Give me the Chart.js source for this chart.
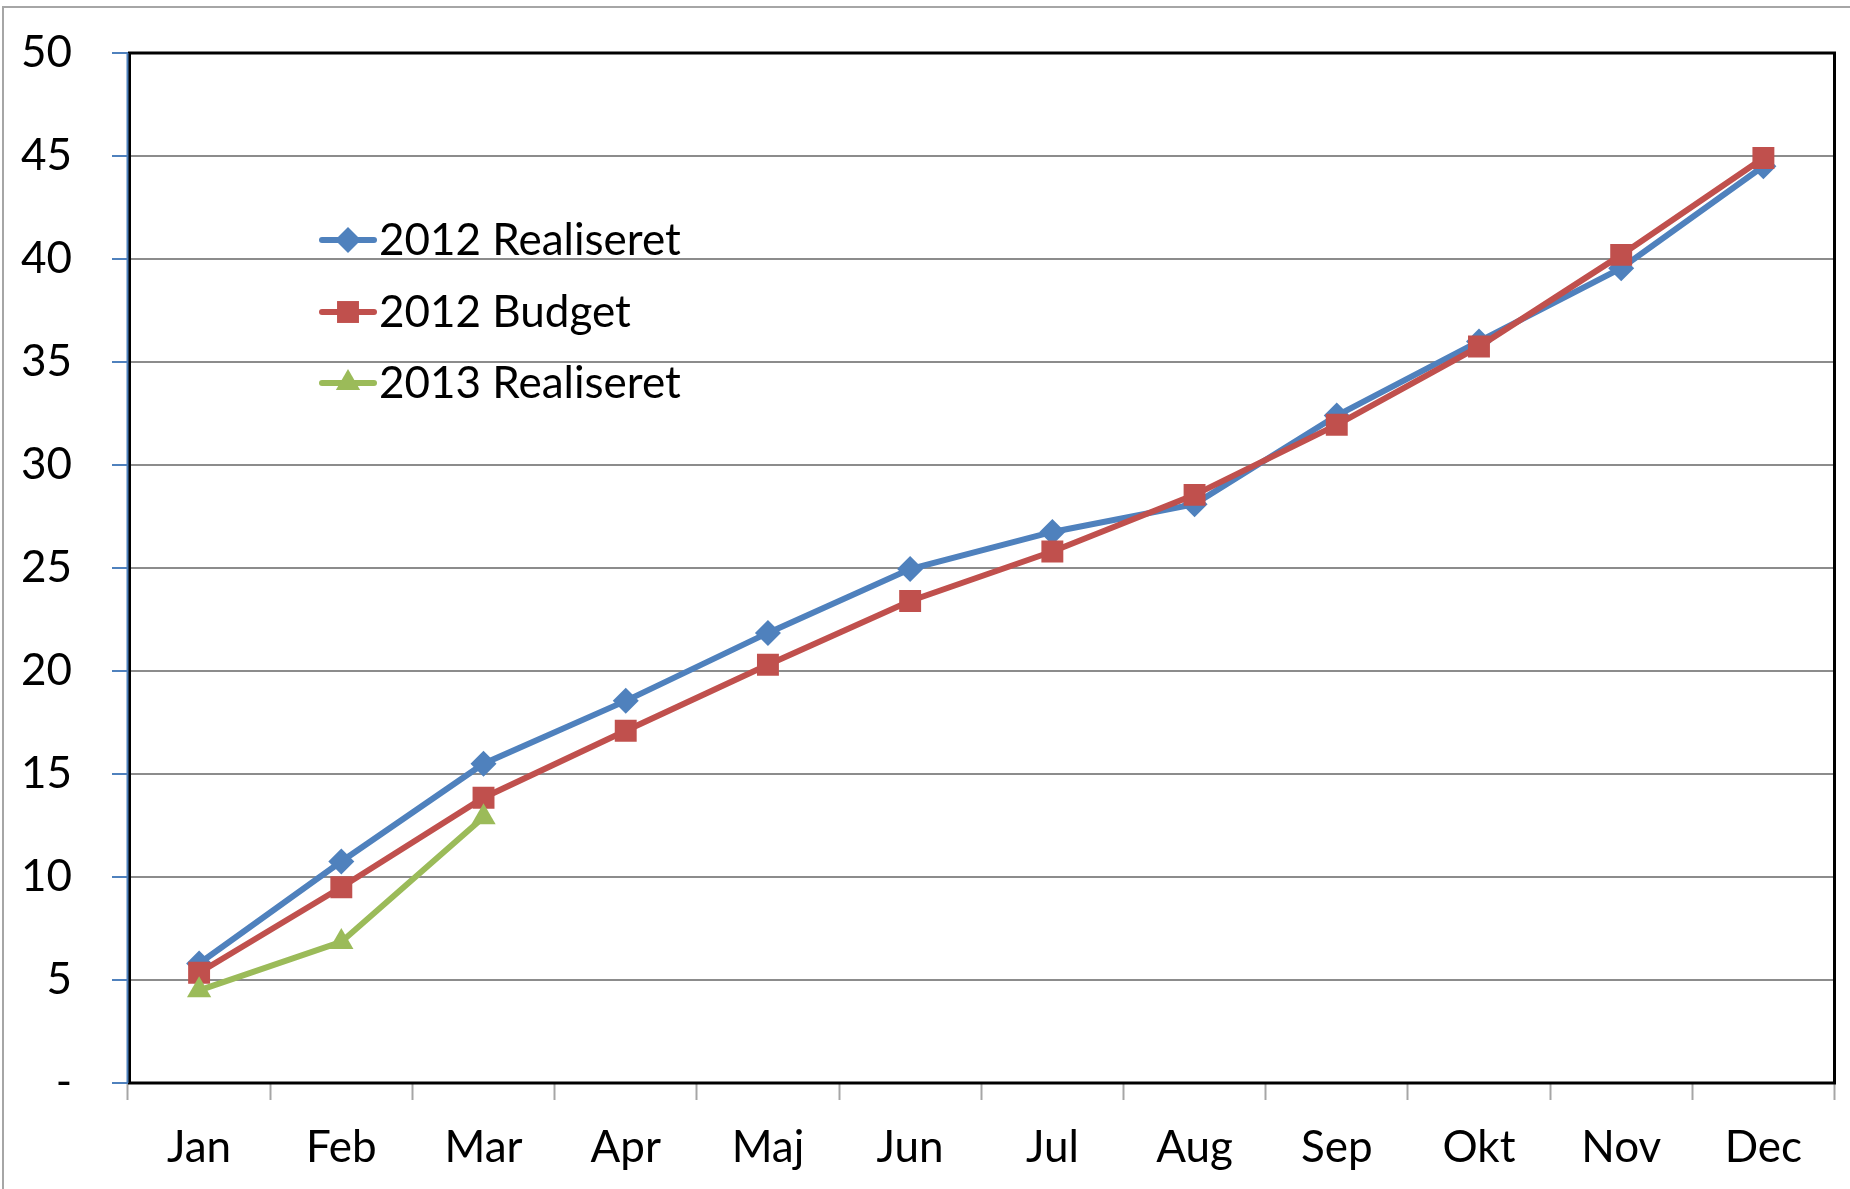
<!DOCTYPE html>
<html>
<head>
<meta charset="utf-8">
<script src="https://cdn.jsdelivr.net/npm/chart.js@4.4.1/dist/chart.umd.min.js"></script>
<style>
  html, body { margin: 0; padding: 0; background: #fff; overflow: hidden; }
  #wrap { position: relative; width: 1850px; height: 1189px; }
</style>
</head>
<body>
<div id="wrap"><canvas id="myChart" width="1850" height="1189"></canvas></div>
<script>
const months = ['Jan', 'Feb', 'Mar', 'Apr', 'Maj', 'Jun', 'Jul', 'Aug', 'Sep', 'Okt', 'Nov', 'Dec'];
const realiseret2012 = [5.8, 10.75, 15.5, 18.55, 21.85, 24.95, 26.75, 28.1, 32.4, 36.0, 39.55, 44.5];
const budget2012 = [5.35, 9.5, 13.85, 17.1, 20.3, 23.4, 25.8, 28.55, 31.95, 35.75, 40.2, 44.9];
const realiseret2013 = [4.5, 6.85, 12.9];
const yTicks = [0, 5, 10, 15, 20, 25, 30, 35, 40, 45, 50];

const FONT = 'Lato, "Open Sans", sans-serif';
const LINE_W = 6;

// plot frame + outer border + legend, drawn by hand like the Excel original
const framePlugin = {
  id: 'frame',
  beforeDraw(chart) {
    const { ctx } = chart;
    ctx.save();
    ctx.fillStyle = '#fff';
    ctx.fillRect(0, 0, chart.width, chart.height);
    ctx.strokeStyle = '#a6a6a6';
    ctx.lineWidth = 2;
    ctx.strokeRect(3, 7, chart.width + 20, chart.height + 20);
    ctx.restore();
  },
  afterDatasetsDraw(chart) {
    const { ctx, chartArea: a } = chart;
    ctx.save();
    ctx.strokeStyle = '#000';
    ctx.lineWidth = 3;
    ctx.strokeRect(a.left + 1.5, a.top, a.right - a.left - 1.5, a.bottom - a.top);
    ctx.strokeStyle = '#4f81bd';
    ctx.lineWidth = 2;
    ctx.beginPath();
    ctx.moveTo(a.left - 0.5, a.top);
    ctx.lineTo(a.left - 0.5, a.bottom);
    ctx.stroke();

    // legend
    const rows = [240, 312, 383];
    chart.data.datasets.forEach((ds, i) => {
      const y = rows[i];
      ctx.strokeStyle = ds.borderColor;
      ctx.lineWidth = LINE_W;
      ctx.lineCap = 'round';
      ctx.beginPath();
      ctx.moveTo(322, y);
      ctx.lineTo(374, y);
      ctx.stroke();
      ctx.fillStyle = ds.backgroundColor;
      Chart.helpers.drawPoint(ctx, { pointStyle: ds.pointStyle, radius: ds.pointRadius, borderWidth: 0 }, 348, y);
      ctx.fillStyle = '#000';
      ctx.font = `44px ${FONT}`;
      ctx.textBaseline = 'middle';
      ctx.textAlign = 'left';
      ctx.fillText(ds.label, 379, y + 1);
    });
    ctx.restore();
  },
};

const data = {
  labels: months,
  datasets: [
    {
      label: '2012 Realiseret',
      data: realiseret2012,
      borderColor: '#4f81bd',
      backgroundColor: '#4f81bd',
      borderWidth: LINE_W,
      pointStyle: 'rectRot',
      pointRadius: 13,
      pointBorderWidth: 0,
      order: 2,
    },
    {
      label: '2012 Budget',
      data: budget2012,
      borderColor: '#c0504d',
      backgroundColor: '#c0504d',
      borderWidth: LINE_W,
      pointStyle: 'rect',
      pointRadius: 15.5,
      pointBorderWidth: 0,
      order: 1,
    },
    {
      label: '2013 Realiseret',
      data: realiseret2013,
      borderColor: '#9bbb59',
      backgroundColor: '#9bbb59',
      borderWidth: LINE_W,
      pointStyle: 'triangle',
      pointRadius: 14,
      pointBorderWidth: 0,
      order: 0,
    },
  ],
};

const config = {
  type: 'line',
  data,
  options: {
    responsive: false,
    animation: false,
    layout: { padding: { top: 53, right: 8, left: 0, bottom: 0 } },
    elements: {
      line: { tension: 0 },
    },
    plugins: {
      legend: { display: false },
      tooltip: { enabled: false },
    },
    scales: {
      x: {
        offset: true,
        grid: {
          offset: true,
          drawOnChartArea: false,
          drawTicks: true,
          tickLength: 17,
          tickColor: '#a6a6a6',
          tickWidth: 2,
        },
        border: { display: false },
        ticks: {
          color: '#000',
          font: { family: FONT, size: 44 },
          padding: 21,
          maxRotation: 0,
        },
        afterFit(scale) { scale.height = 106; },
      },
      y: {
        min: 0,
        max: 50,
        afterBuildTicks(scale) { scale.ticks = yTicks.map((v) => ({ value: v })); },
        grid: {
          color: '#8c8c8c',
          lineWidth: 2,
          drawTicks: true,
          tickLength: 16,
          tickColor: '#4f81bd',
          tickWidth: 2,
        },
        border: { display: false },
        ticks: {
          color: '#000',
          font: { family: FONT, size: 44 },
          padding: 40,
          callback: (v) => (v === 0 ? '-' : v),
        },
        afterFit(scale) {
          scale.width = 128;
          scale.paddingTop = 0;
          scale.paddingBottom = 0;
        },
      },
    },
  },
  plugins: [framePlugin],
};

const myChart = new Chart(document.querySelector('#myChart'), config);
</script>
</body>
</html>
